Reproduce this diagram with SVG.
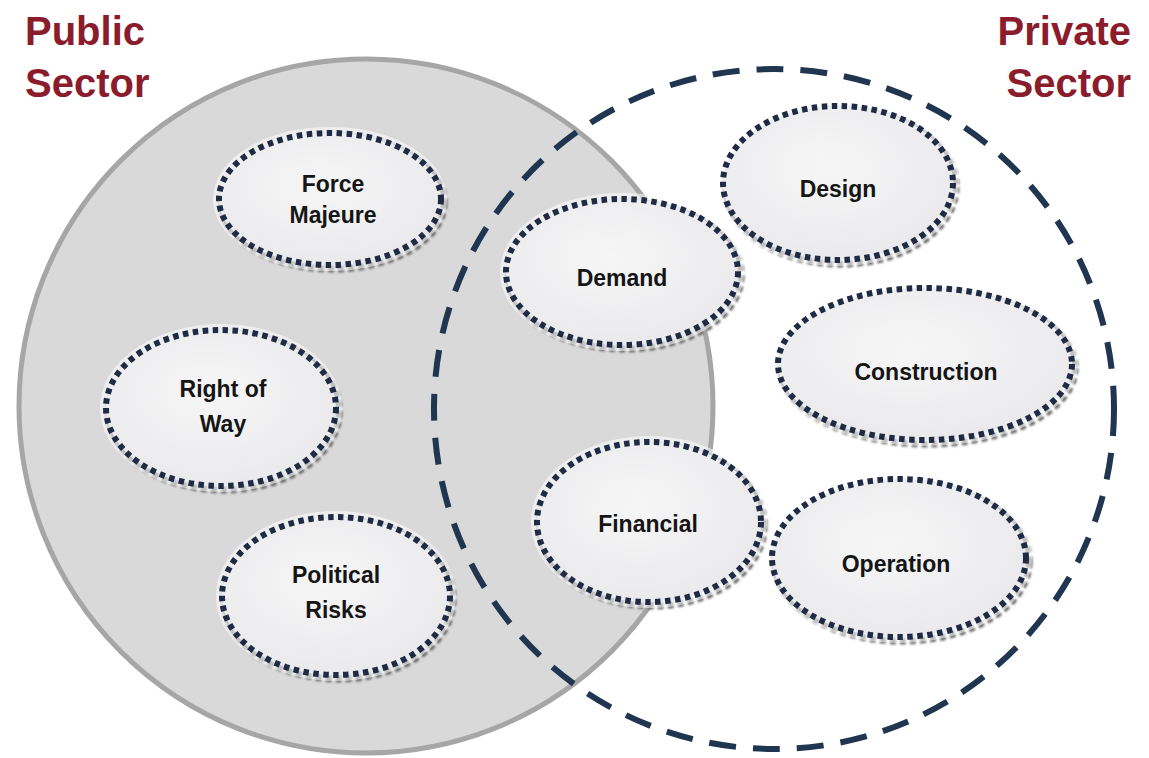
<svg xmlns="http://www.w3.org/2000/svg" width="1149" height="758" viewBox="0 0 1149 758">
<style>
.title{font-family:"Liberation Sans",Arial,sans-serif;font-weight:bold;font-size:40px;fill:#8b1c2c}
.lbl{font-family:"Liberation Sans",Arial,sans-serif;font-weight:bold;font-size:23px;fill:#151515;text-anchor:middle}
.shadow{fill:none;stroke:#6f6f6f;stroke-width:7;stroke-dasharray:6 4}
.glow{fill:none;stroke:#ffffff;stroke-opacity:0.55;stroke-width:12}
.node{fill:url(#nf);stroke:#1f2b45;stroke-width:6;stroke-dasharray:5.5 4.5}
</style>
<defs>
<radialGradient id="nf" cx="0.45" cy="0.4" r="0.65">
<stop offset="0" stop-color="#f6f6f7"/>
<stop offset="1" stop-color="#e9e9eb"/>
</radialGradient>
<filter id="blur" x="-10%" y="-10%" width="120%" height="120%"><feGaussianBlur stdDeviation="0.8"/></filter>
</defs>
<rect width="1149" height="758" fill="#ffffff"/>
<g id="public-sector">
<circle cx="366" cy="406" r="347" fill="#d9d9d9" stroke="#a6a6a6" stroke-width="5"/>
<text class="title" x="25" y="45">Public</text>
<text class="title" x="25" y="97">Sector</text>
</g>
<g id="private-sector">
<circle cx="774" cy="409" r="340" fill="none" stroke="#1f3550" stroke-width="6" stroke-dasharray="27 17"/>
<text class="title" x="1131" y="45" text-anchor="end">Private</text>
<text class="title" x="1131" y="97" text-anchor="end">Sector</text>
</g>
<g id="connectors"></g>
<g id="force-majeure">
<ellipse class="shadow" filter="url(#blur)" cx="333" cy="203" rx="111" ry="66"/>
<ellipse class="glow" cx="330" cy="199" rx="111" ry="66"/>
<ellipse class="node" cx="330" cy="199" rx="111" ry="66"/>
<text class="lbl" x="333" y="192">Force</text>
<text class="lbl" x="333" y="223">Majeure</text>
</g>
<g id="design">
<ellipse class="shadow" filter="url(#blur)" cx="841" cy="187" rx="115" ry="77"/>
<ellipse class="glow" cx="838" cy="183" rx="115" ry="77"/>
<ellipse class="node" cx="838" cy="183" rx="115" ry="77"/>
<text class="lbl" x="838" y="197">Design</text>
</g>
<g id="demand">
<ellipse class="shadow" filter="url(#blur)" cx="625" cy="276" rx="116" ry="73"/>
<ellipse class="glow" cx="622" cy="272" rx="116" ry="73"/>
<ellipse class="node" cx="622" cy="272" rx="116" ry="73"/>
<text class="lbl" x="622" y="286">Demand</text>
</g>
<g id="right-of-way">
<ellipse class="shadow" filter="url(#blur)" cx="224" cy="412" rx="115" ry="78"/>
<ellipse class="glow" cx="221" cy="408" rx="115" ry="78"/>
<ellipse class="node" cx="221" cy="408" rx="115" ry="78"/>
<text class="lbl" x="223" y="397">Right of</text>
<text class="lbl" x="223" y="432">Way</text>
</g>
<g id="construction">
<ellipse class="shadow" filter="url(#blur)" cx="928" cy="368" rx="147" ry="76"/>
<ellipse class="glow" cx="925" cy="364" rx="147" ry="76"/>
<ellipse class="node" cx="925" cy="364" rx="147" ry="76"/>
<text class="lbl" x="926" y="380">Construction</text>
</g>
<g id="financial">
<ellipse class="shadow" filter="url(#blur)" cx="652" cy="526" rx="112" ry="80"/>
<ellipse class="glow" cx="649" cy="522" rx="112" ry="80"/>
<ellipse class="node" cx="649" cy="522" rx="112" ry="80"/>
<text class="lbl" x="648" y="532">Financial</text>
</g>
<g id="operation">
<ellipse class="shadow" filter="url(#blur)" cx="902" cy="562" rx="127" ry="79"/>
<ellipse class="glow" cx="899" cy="558" rx="127" ry="79"/>
<ellipse class="node" cx="899" cy="558" rx="127" ry="79"/>
<text class="lbl" x="896" y="572">Operation</text>
</g>
<g id="political-risks">
<ellipse class="shadow" filter="url(#blur)" cx="339" cy="600" rx="114" ry="79"/>
<ellipse class="glow" cx="336" cy="596" rx="114" ry="79"/>
<ellipse class="node" cx="336" cy="596" rx="114" ry="79"/>
<text class="lbl" x="336" y="583">Political</text>
<text class="lbl" x="336" y="618">Risks</text>
</g>
</svg>
